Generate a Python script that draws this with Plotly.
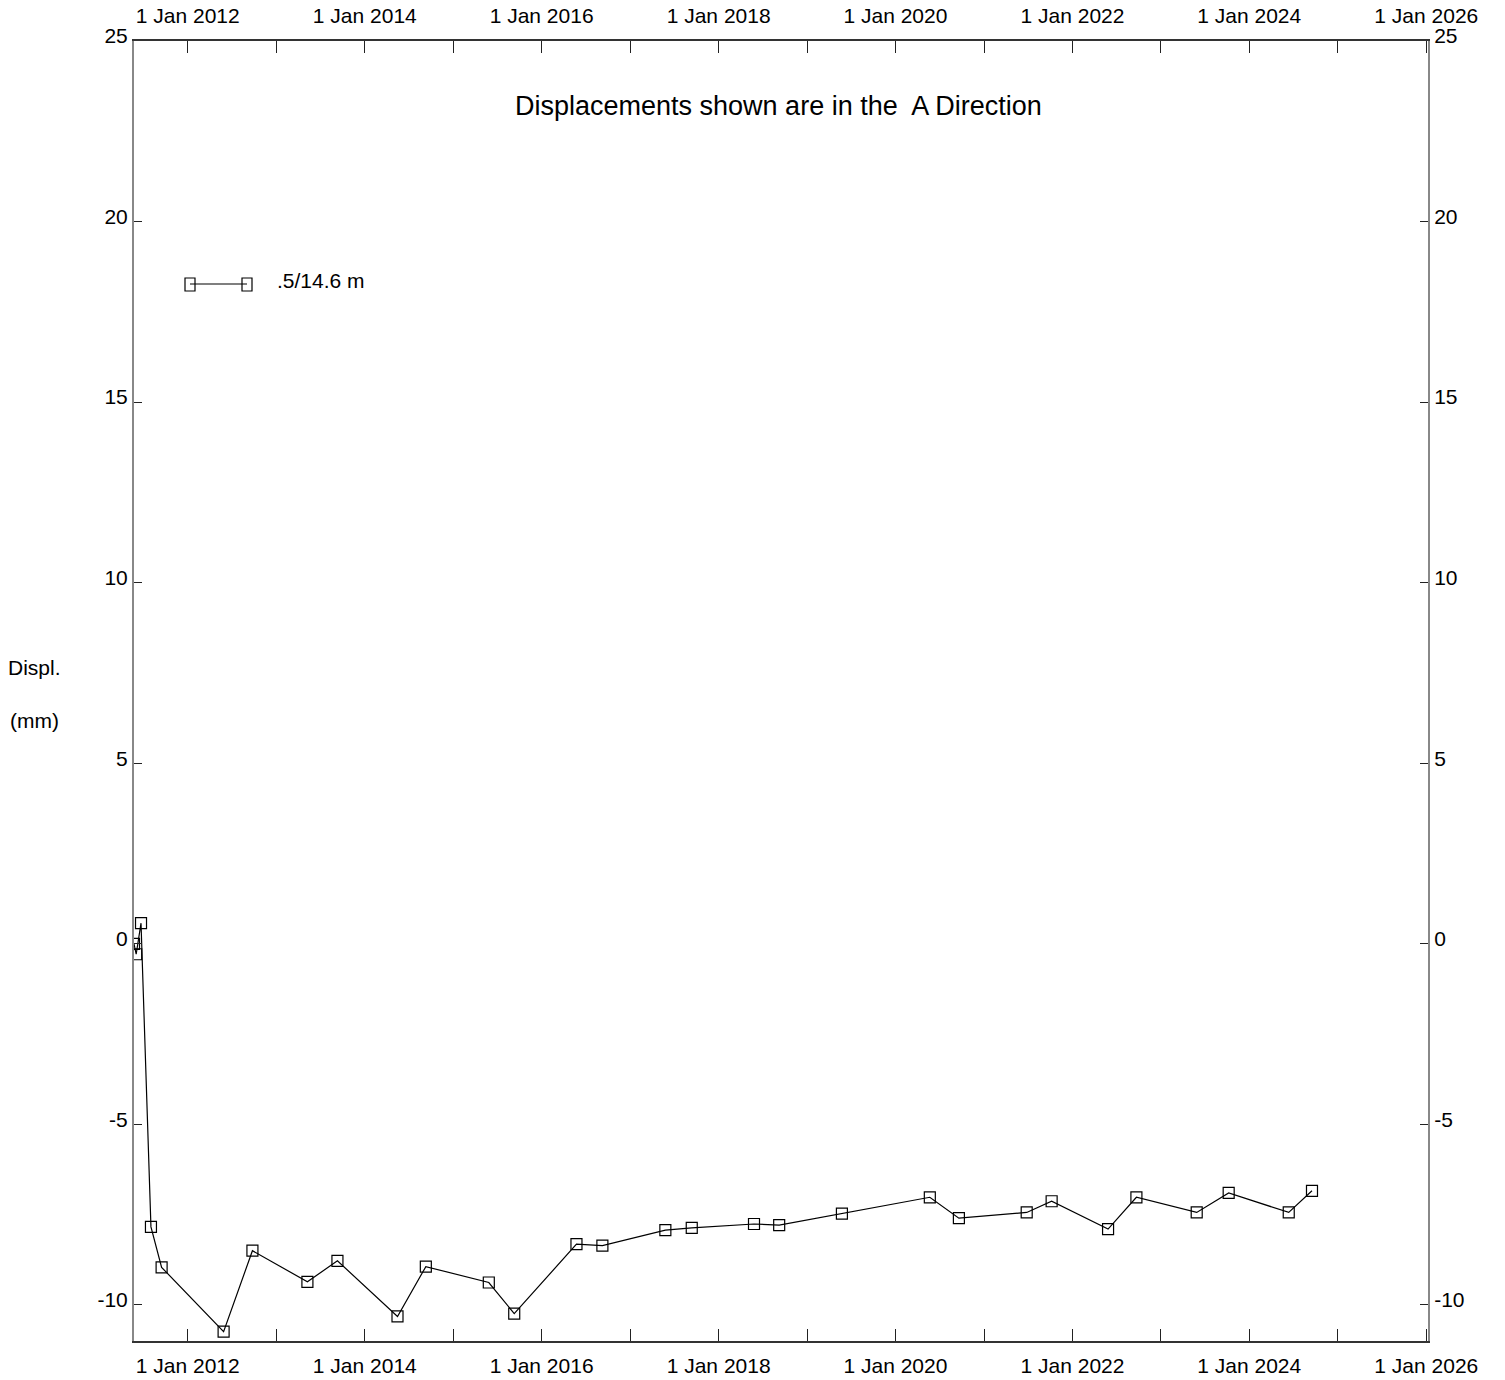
import plotly.graph_objects as go

# ---- data ----
survey_dates = [
    "2011-05-24", "2011-06-02", "2011-06-22", "2011-08-02", "2011-09-15",
    "2012-05-28", "2012-09-24", "2013-05-09", "2013-09-10", "2014-05-16",
    "2014-09-10", "2015-05-28", "2015-09-10", "2016-05-24", "2016-09-08",
    "2017-05-26", "2017-09-12", "2018-05-27", "2018-09-08", "2019-05-25",
    "2020-05-22", "2020-09-19", "2021-06-26", "2021-10-07", "2022-05-28",
    "2022-09-22", "2023-05-29", "2023-10-08", "2024-06-12", "2024-09-16",
]
displacement_mm = [
    0.0, -0.29, 0.57, -7.84, -8.96,
    -10.74, -8.50, -9.36, -8.78, -10.32,
    -8.94, -9.38, -10.24, -8.32, -8.36,
    -7.93, -7.87, -7.76, -7.79, -7.47,
    -7.02, -7.60, -7.44, -7.13, -7.90,
    -7.02, -7.44, -6.90, -7.44, -6.84,
]
series_name = ".5/14.6 m"
year_tick_vals = [f"{y}-01-01" for y in range(2012, 2027)]
year_tick_text = [f"1 Jan {y}" if y % 2 == 0 else "" for y in range(2012, 2027)]
y_tick_vals = [-10, -5, 0, 5, 10, 15, 20, 25]
y_tick_text = ["-10", "-5", "0", "5", "10", "15", "20", "25"]
title_text = "Displacements shown are in the  A Direction"

# ---- layout geometry ----
W, H = 1505, 1380
L, R, T, B = 134, 1428, 41, 1341
FONT = "Arial, Liberation Sans, sans-serif"


def px(xp):
    return (xp - L) / (R - L)


def py(yp):
    return (B - yp) / (B - T)


fig = go.Figure()
fig.add_trace(go.Scatter(
    x=survey_dates, y=displacement_mm, mode="lines+markers", name=series_name,
    line=dict(color="black", width=1.2),
    marker=dict(symbol="square-open", size=11, color="black", line=dict(width=1.2)),
    showlegend=False,
))
# dummy trace to activate the mirrored top/right axes
fig.add_trace(go.Scatter(
    x=[survey_dates[0]], y=[displacement_mm[0]], xaxis="x2", yaxis="y2",
    mode="markers", marker=dict(opacity=0), showlegend=False, hoverinfo="skip",
))

xrange_ = ["2011-05-24", "2026-01-08"]
common_x = dict(
    range=xrange_, type="date", tickmode="array", tickvals=year_tick_vals,
    ticktext=year_tick_text, ticks="inside", ticklen=12, tickwidth=1.3,
    tickcolor="#222", showgrid=False, zeroline=False, showline=True,
    linecolor="#333", linewidth=1.5,
    tickfont=dict(family=FONT, size=21, color="black"),
)
common_y = dict(
    range=[-11, 25], tickmode="array", tickvals=y_tick_vals, ticktext=y_tick_text,
    ticks="inside", ticklen=8, tickwidth=1.2, tickcolor="#222",
    showgrid=False, zeroline=False, showline=True, linecolor="#888", linewidth=2,
    tickfont=dict(family=FONT, size=21, color="black"), ticklabelshift=-5,
)

fig.update_layout(
    width=W, height=H,
    margin=dict(l=L, r=W - R, t=T, b=H - B, autoexpand=False),
    paper_bgcolor="white", plot_bgcolor="white",
    xaxis=dict(**common_x, side="bottom", anchor="y", ticklabelstandoff=5),
    xaxis2=dict(**common_x, side="top", overlaying="x", matches="x", anchor="y2",
                ticklabelstandoff=8),
    yaxis=dict(**common_y, side="left", anchor="x"),
    yaxis2=dict(**common_y, side="right", overlaying="y", matches="y", anchor="x2"),
    showlegend=False,
)

annots = [
    dict(text=title_text, x=px(778), y=py(106), size=27),
    dict(text="Displ.", x=px(34), y=py(667), size=21),
    dict(text="(mm)", x=px(34), y=py(720), size=21),
]
for a in annots:
    fig.add_annotation(text=a["text"], x=a["x"], y=a["y"], xref="paper", yref="paper",
                       showarrow=False, xanchor="center", yanchor="middle",
                       font=dict(family=FONT, size=a["size"], color="black"))

# legend sample
fig.add_shape(type="line", xref="paper", yref="paper",
              x0=px(190), x1=px(247), y0=py(284), y1=py(284),
              line=dict(color="black", width=1.2))
for cx in (190, 247):
    fig.add_shape(type="rect", xref="paper", yref="paper",
                  x0=px(cx - 5), x1=px(cx + 5), y0=py(278), y1=py(291),
                  line=dict(color="black", width=1.2), fillcolor="rgba(0,0,0,0)")
fig.add_annotation(text=series_name, x=px(275), y=py(280), xref="paper", yref="paper",
                   showarrow=False, xanchor="left", yanchor="middle",
                   font=dict(family=FONT, size=21, color="black"))

fig.write_html("out.html")
